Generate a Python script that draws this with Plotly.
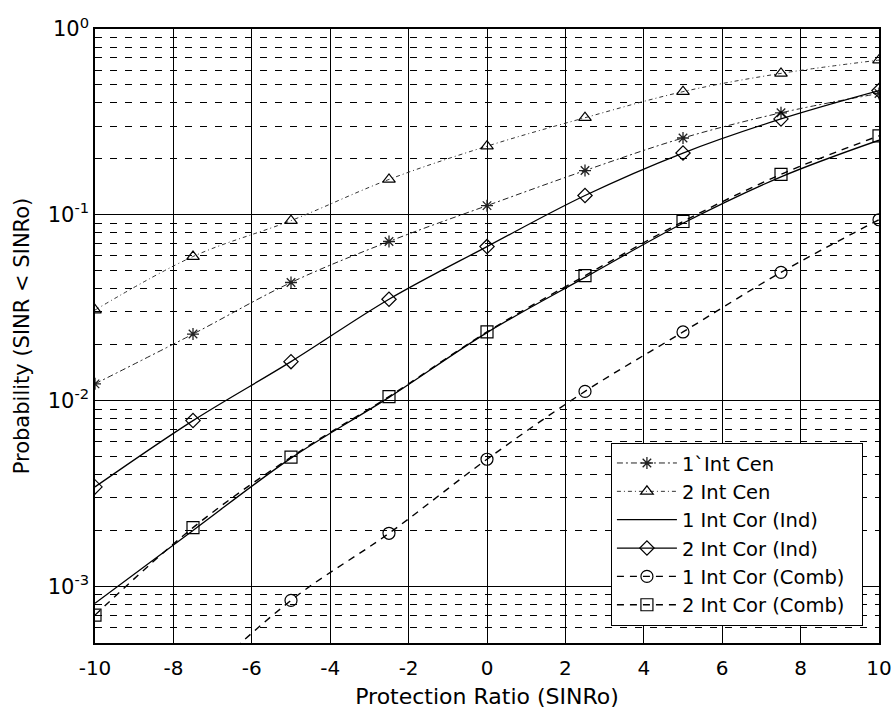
import plotly.graph_objects as go

# Protection ratio (dB) at which each curve is evaluated
x_pts = [-10, -7.5, -5, -2.5, 0, 2.5, 5, 7.5, 10]

# Probability (SINR < SINRo) for each configuration
cen_1 = [0.0123, 0.0228, 0.0432, 0.0718, 0.112, 0.173, 0.259, 0.354, 0.45]
cen_2 = [0.0307, 0.0596, 0.093, 0.155, 0.234, 0.333, 0.46, 0.577, 0.68]
cor_ind_1 = [8.1e-4, 2.0e-3, 4.9e-3, 0.0104, 0.0232, 0.046, 0.09, 0.16, 0.252]
cor_ind_2 = [3.43e-3, 7.8e-3, 0.0162, 0.0351, 0.0674, 0.127, 0.215, 0.328, 0.466]
cor_comb_1 = [7e-5, 2.8e-4, 8.4e-4, 1.93e-3, 4.83e-3, 0.0112, 0.0234, 0.049, 0.094]
cor_comb_2 = [7.0e-4, 2.07e-3, 4.96e-3, 0.0105, 0.0234, 0.047, 0.092, 0.165, 0.266]

series_names = [
    "1`Int Cen",
    "2 Int Cen",
    "1 Int Cor (Ind)",
    "2 Int Cor (Ind)",
    "1 Int Cor (Comb)",
    "2 Int Cor (Comb)",
]

x_ticks = [-10, -8, -6, -4, -2, 0, 2, 4, 6, 8, 10]
x_tick_labels = ["-10", "-8", "-6", "-4", "-2", "0", "2", "4", "6", "8", "10"]
y_ticks = [1e-3, 1e-2, 1e-1, 1]
y_tick_labels = ["10<sup>-3</sup>", "10<sup>-2</sup>", "10<sup>-1</sup>", "10<sup>0</sup>"]
decades = [1e-4, 1e-3, 1e-2, 1e-1]
minor_mult = [2, 3, 4, 5, 6, 7, 8, 9]

FONT = "DejaVu Sans, Arial, sans-serif"
# trailing blank space gives the legend box some room on its right side
LEGEND_PAD = "\u00a0\u00a0"

styles = [
    dict(line=dict(color="#222", width=1, dash="6px,3px,2px,3px"),
         marker=dict(symbol="asterisk-open", size=10, line=dict(color="black", width=1.3))),
    dict(line=dict(color="#333", width=1, dash="4px,3px,1px,3px"),
         marker=dict(symbol="triangle-up-open", size=11, color="black", line=dict(color="black", width=1.2))),
    dict(line=dict(color="black", width=1.3), mode="lines"),
    dict(line=dict(color="black", width=1.3),
         marker=dict(symbol="diamond-open", size=11, color="black", line=dict(color="black", width=1.2))),
    dict(line=dict(color="black", width=1.4, dash="7px,6px"),
         marker=dict(symbol="circle-open", size=12, color="black", line=dict(color="black", width=1.2))),
    dict(line=dict(color="black", width=1.4, dash="7px,6px"),
         marker=dict(symbol="square-open", size=12, color="black", line=dict(color="black", width=1.2))),
]

all_series = [cen_1, cen_2, cor_ind_1, cor_ind_2, cor_comb_1, cor_comb_2]

fig = go.Figure()
for name, vals, st in zip(series_names, all_series, styles):
    st = dict(st)
    mode = st.pop("mode", "lines+markers")
    fig.add_trace(go.Scatter(
        x=x_pts, y=vals, name=name + LEGEND_PAD, mode=mode,
        line_shape="spline", cliponaxis=True, **st,
    ))

minor_vals = [d * m for d in decades for m in minor_mult]

fig.update_layout(
    width=893, height=710,
    margin=dict(l=95, r=14, t=29, b=67),
    paper_bgcolor="white", plot_bgcolor="white",
    font=dict(family=FONT, color="black", size=20),
    showlegend=True,
    legend=dict(
        x=0.9795, y=0.028, xanchor="right", yanchor="bottom",
        bgcolor="white", bordercolor="black", borderwidth=1,
        font=dict(family=FONT, size=19.5, color="black"),
        itemwidth=60, tracegroupgap=0,
    ),
    xaxis=dict(
        range=[-10, 10], tickmode="array", tickvals=x_ticks, ticktext=x_tick_labels,
        showgrid=True, gridcolor="black", gridwidth=1.3,
        showline=True, mirror=True, linecolor="black", linewidth=1.5,
        ticks="inside", ticklen=5, tickcolor="black",
        tickfont=dict(family=FONT, size=20), ticklabelstandoff=6,
        ticklabeloverflow="allow",
        zeroline=False,
        title=dict(text="Protection Ratio (SINRo)", font=dict(family=FONT, size=22), standoff=10),
        automargin=False,
    ),
    yaxis=dict(
        type="log", range=[-3.305, 0], tickmode="array", tickvals=y_ticks, ticktext=y_tick_labels,
        showgrid=True, gridcolor="black", gridwidth=1.3,
        showline=True, mirror=True, linecolor="black", linewidth=1.5,
        ticks="inside", ticklen=5, tickcolor="black",
        tickfont=dict(family=FONT, size=21),
        ticklabeloverflow="allow",
        zeroline=False,
        minor=dict(tickmode="array", tickvals=minor_vals, showgrid=True,
                   gridcolor="black", gridwidth=1, griddash="7px,8px",
                   ticks="inside", ticklen=4, tickcolor="black"),
        title=dict(text="Probability (SINR < SINRo)", font=dict(family=FONT, size=21), standoff=12),
        automargin=False,
    ),
)

fig.write_html("out.html")
